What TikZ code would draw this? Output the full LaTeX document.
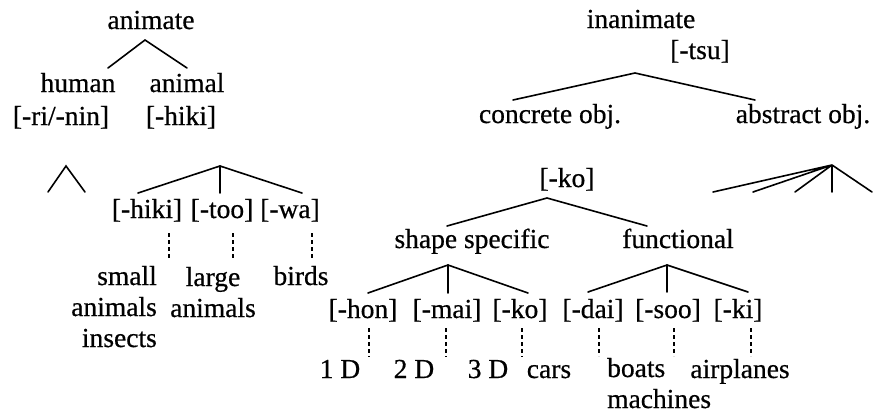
\documentclass[tikz,border=0pt]{standalone}
\usepackage{fontspec}
\setmainfont{Liberation Serif}[FakeBold=0.6]
\begin{document}
\begin{tikzpicture}[x=1pt,y=-1pt,
  lbl/.style={anchor=base, inner sep=0pt, font=\fontsize{27.5}{31}\selectfont},
  edge/.style={line width=1.6pt, line cap=round},
  dotln/.style={line width=1.4pt, dash pattern=on 4pt off 3pt}]
\useasboundingbox (0,0) rectangle (879,416);
% ---- animate subtree ----
\node[lbl] (animate) at (151,29) {animate};
\node[lbl] (human) at (78,92) {human};
\node[lbl] (animal) at (187,92) {animal};
\node[lbl] (rinin) at (61,125) {[-ri/-nin]};
\node[lbl] (hikiA) at (181,125) {[-hiki]};
\node[lbl] (hikiB) at (147,218) {[-hiki]};
\node[lbl] (too) at (222,218) {[-too]};
\node[lbl] (wa) at (290,218) {[-wa]};
% multi-line nodes: base anchor = baseline of the last line
\node[lbl, anchor=base east, align=right] (small) at (157,347) {small\\animals\\insects};
\node[lbl, align=center] (large) at (213,317) {large\\animals};
\node[lbl] (birds) at (301,285) {birds};
\coordinate (anA) at (145,40); \coordinate (anH) at (108,68); \coordinate (anN) at (187,68);
\draw[edge] (anH) -- (anA) -- (anN);
\coordinate (huA) at (66,166); \coordinate (huL) at (48,192); \coordinate (huR) at (85,192);
\draw[edge] (huL) -- (huA) -- (huR);
\coordinate (alA) at (220,166); \coordinate (alL) at (138,193); \coordinate (alM) at (220,193); \coordinate (alR) at (302,193);
\draw[edge] (alL) -- (alA) -- (alR); \draw[edge] (alA) -- (alM);
\coordinate (d1t) at (169,233); \coordinate (d1b) at (169,260);
\coordinate (d2t) at (233,233); \coordinate (d2b) at (233,260);
\coordinate (d3t) at (312,233); \coordinate (d3b) at (312,260);
\draw[dotln] (d1t) -- (d1b); \draw[dotln] (d2t) -- (d2b); \draw[dotln] (d3t) -- (d3b);
% ---- inanimate subtree ----
\node[lbl] (inanimate) at (641,28) {inanimate};
\node[lbl] (tsu) at (700,59) {[-tsu]};
\node[lbl] (concrete) at (550,123) {concrete obj.};
\node[lbl] (abstract) at (803,123) {abstract obj.};
\node[lbl] (koA) at (567,187) {[-ko]};
\node[lbl] (shape) at (472,248) {shape specific};
\node[lbl] (functional) at (678,248) {functional};
\node[lbl] (hon) at (363,318) {[-hon]};
\node[lbl] (mai) at (447,318) {[-mai]};
\node[lbl] (koB) at (520,318) {[-ko]};
\node[lbl] (dai) at (593,318) {[-dai]};
\node[lbl] (soo) at (668,318) {[-soo]};
\node[lbl] (ki) at (738,318) {[-ki]};
\node[lbl] (oneD) at (340,378) {1 D};
\node[lbl] (twoD) at (414,378) {2 D};
\node[lbl] (threeD) at (488,378) {3 D};
\node[lbl] (cars) at (549,378) {cars};
\node[lbl, anchor=base west, align=left] (boats) at (607,408) {boats\\machines};
\node[lbl] (airplanes) at (740,378) {airplanes};
\coordinate (inA) at (635,73); \coordinate (inL) at (513,100); \coordinate (inR) at (755,100);
\draw[edge] (inL) -- (inA) -- (inR);
\coordinate (abA) at (832,165);
\coordinate (ab1) at (713,192); \coordinate (ab2) at (753,192); \coordinate (ab3) at (795,192);
\coordinate (ab4) at (832,192); \coordinate (ab5) at (872,192);
\draw[edge] (abA) -- (ab1) (abA) -- (ab2) (abA) -- (ab3) (abA) -- (ab4) (abA) -- (ab5);
\coordinate (koT) at (547,198); \coordinate (koL) at (447,226); \coordinate (koR) at (647,226);
\draw[edge] (koL) -- (koT) -- (koR);
\coordinate (shA) at (448,265); \coordinate (shL) at (368,293); \coordinate (shM) at (448,293); \coordinate (shR) at (528,293);
\draw[edge] (shL) -- (shA) -- (shR); \draw[edge] (shA) -- (shM);
\coordinate (fuA) at (667,265); \coordinate (fuL) at (588,292); \coordinate (fuM) at (667,292); \coordinate (fuR) at (748,292);
\draw[edge] (fuL) -- (fuA) -- (fuR); \draw[edge] (fuA) -- (fuM);
\coordinate (e1t) at (369,328); \coordinate (e1b) at (369,357);
\coordinate (e2t) at (446,328); \coordinate (e2b) at (446,357);
\coordinate (e3t) at (522,328); \coordinate (e3b) at (522,357);
\coordinate (e4t) at (599,328); \coordinate (e4b) at (599,356);
\coordinate (e5t) at (674,328); \coordinate (e5b) at (674,356);
\coordinate (e6t) at (751,328); \coordinate (e6b) at (751,356);
\draw[dotln] (e1t) -- (e1b); \draw[dotln] (e2t) -- (e2b); \draw[dotln] (e3t) -- (e3b);
\draw[dotln] (e4t) -- (e4b); \draw[dotln] (e5t) -- (e5b); \draw[dotln] (e6t) -- (e6b);
\end{tikzpicture}
\end{document}
